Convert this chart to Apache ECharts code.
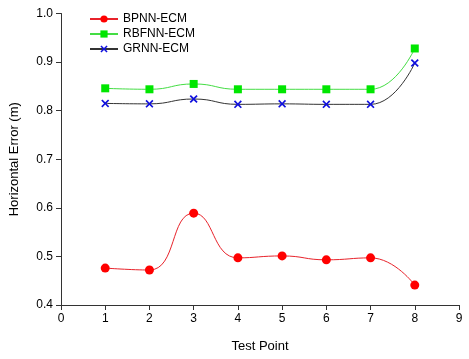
<!DOCTYPE html>
<html>
<head>
<meta charset="utf-8">
<script src="https://cdn.jsdelivr.net/npm/echarts@6/dist/echarts.min.js"></script>
<style>
html, body { margin: 0; padding: 0; background: #fff; }
#main { width: 469px; height: 359px; }
</style>
</head>
<body>
<div id="main"></div>
<script>
// 测试点
var testPoints = [1, 2, 3, 4, 5, 6, 7, 8];
// 各方法水平误差 (m)
var bpnn = [0.476, 0.472, 0.589, 0.497, 0.501, 0.493, 0.497, 0.441];
var rbfnn = [0.846, 0.844, 0.855, 0.844, 0.844, 0.844, 0.844, 0.928];
var grnn = [0.815, 0.814, 0.824, 0.813, 0.814, 0.813, 0.813, 0.898];

var crossIcon = 'path://M0,1.5L1.5,0L5,3.5L8.5,0L10,1.5L6.5,5L10,8.5L8.5,10L5,6.5L1.5,10L0,8.5L3.5,5Z';

function pairs(vals) {
	var out = [];
	for (var i = 0; i < vals.length; i++) {
		out.push([testPoints[i], vals[i]]);
	}
	return out;
}

var myChart = echarts.init(document.getElementById('main'));
var font = 'Liberation Sans, Arial, sans-serif';
var option = {
	backgroundColor: '#fff',
	animation: false,
	textStyle: { fontFamily: font },
	grid: { left: 56, right: 10, top: 13.5, bottom: 54 },
	legend: {
		orient: 'vertical',
		left: 84,
		top: 8,
		itemWidth: 28,
		itemHeight: 9,
		itemGap: 3,
		textStyle: { fontFamily: font, fontSize: 12, color: '#000' },
		data: ['BPNN-ECM', 'RBFNN-ECM', 'GRNN-ECM']
	},
	xAxis: {
		type: 'value',
		min: 0,
		max: 9,
		interval: 1,
		name: 'Test Point',
		nameLocation: 'middle',
		nameGap: 35,
		nameTextStyle: { fontSize: 13, color: '#000' },
		axisLine: { lineStyle: { color: '#333', width: 1 } },
		axisTick: { inside: false, length: 5, lineStyle: { color: '#333' } },
		axisLabel: { fontSize: 12, color: '#000', margin: 8 },
		splitLine: { show: false }
	},
	yAxis: {
		type: 'value',
		min: 0.4,
		max: 1.0,
		interval: 0.1,
		name: 'Horizontal Error (m)',
		nameLocation: 'middle',
		nameGap: 40,
		nameTextStyle: { fontSize: 13, color: '#000' },
		axisLine: { show: true, lineStyle: { color: '#333', width: 1 } },
		axisTick: { show: true, inside: false, length: 5, lineStyle: { color: '#333' } },
		axisLabel: {
			fontSize: 12, color: '#000', margin: 8,
			formatter: function(v) { return v.toFixed(1); }
		},
		splitLine: { show: false }
	},
	series: [{
		name: 'BPNN-ECM',
		type: 'line',
		smooth: 0.5,
		data: pairs(bpnn),
		symbol: 'circle',
		symbolSize: 9,
		itemStyle: { color: '#ff0000' },
		lineStyle: { color: '#e8232b', width: 1 }
	}, {
		name: 'RBFNN-ECM',
		type: 'line',
		smooth: 0.5,
		data: pairs(rbfnn),
		symbol: 'rect',
		symbolSize: 8,
		itemStyle: { color: '#00e600' },
		lineStyle: { color: '#44dd44', width: 1 }
	}, {
		name: 'GRNN-ECM',
		type: 'line',
		smooth: 0.5,
		data: pairs(grnn),
		symbol: crossIcon,
		symbolSize: 8,
		itemStyle: { color: '#1010dd' },
		lineStyle: { color: '#333333', width: 1 }
	}]
};
myChart.setOption(option);
</script>
</body>
</html>
